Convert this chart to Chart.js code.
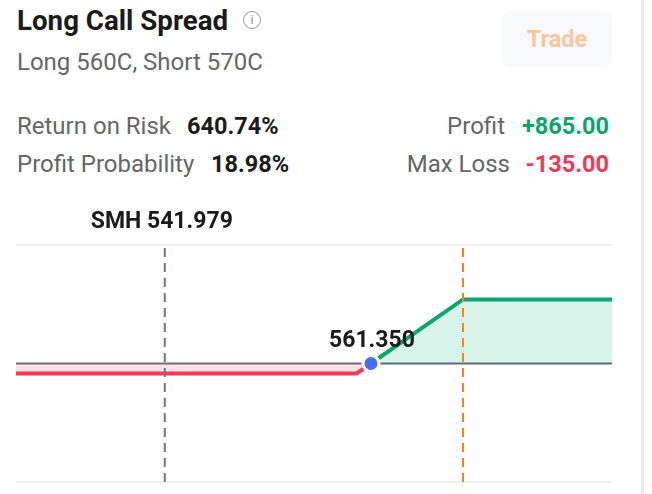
<!DOCTYPE html>
<html><head><meta charset="utf-8">
<script src="https://cdn.jsdelivr.net/npm/chart.js@4"></script>
<style>
html,body{margin:0;padding:0;background:#fff;width:652px;height:494px;overflow:hidden;font-family:Roboto,"Noto Sans",sans-serif;}
.abs{position:absolute;white-space:nowrap;}
#title{left:17px;top:7px;font-size:27.7px;line-height:27px;font-weight:700;color:#1b1b1b;}
#info{left:243px;top:11px;width:16px;height:16px;border:1.5px solid #9a9a9a;border-radius:50%;color:#9a9a9a;font-size:13px;line-height:16px;text-align:center;}
#sub{left:17px;top:50px;font-size:24px;line-height:24px;color:#666;}
#trade{left:502px;top:12px;width:110px;height:55px;background:#f8f9fb;border-radius:8px;color:#fac6a2;font-size:23.5px;font-weight:700;text-align:center;line-height:55px;}
#vbar{left:641px;top:0;width:3px;height:494px;background:#ececec;}
.lab{font-size:24px;line-height:24px;color:#666;}
.val{font-size:23.5px;line-height:24px;font-weight:700;color:#1b1b1b;}
.g{color:#0aa56f;}.r{color:#f0385a;}
#cwrap{position:absolute;left:0;top:190px;width:640px;height:304px;}
</style></head><body>
<div class="abs" id="title">Long Call Spread</div>
<div class="abs" id="info">i</div>
<div class="abs" id="sub">Long 560C, Short 570C</div>
<div class="abs" id="trade">Trade</div>
<div class="abs" id="vbar"></div>
<div class="abs lab" style="left:17px;top:114px;">Return on Risk</div>
<div class="abs val" style="left:187px;top:114px;">640.74%</div>
<div class="abs lab" style="left:17px;top:152px;">Profit Probability</div>
<div class="abs val" style="left:211px;top:152px;">18.98%</div>
<div class="abs lab" style="right:147px;top:114px;">Profit</div>
<div class="abs val g" style="right:43px;top:114px;">+865.00</div>
<div class="abs lab" style="right:142px;top:152px;">Max Loss</div>
<div class="abs val r" style="right:43px;top:152px;">-135.00</div>
<div id="cwrap"><canvas id="c"></canvas></div>
<script>
const priceRange = [528, 584];
const pnlRange = [-1600, 1600];
const lossPrices = [528, 560, 561.35];
const lossValues = [-135, -135, 0];
const profitPrices = [561.35, 570, 584];
const profitValues = [0, 865, 865];
const currentPrice = 541.979;
const breakeven = 561.35;
const shortStrike = 570;
const ticker = "SMH";

const pts = (xs, ys) => xs.map((x, i) => ({x, y: ys[i]}));

const labelPlugin = {
  id: 'labels',
  afterDatasetsDraw(chart) {
    const {ctx, scales: {x, y}, chartArea} = chart;
    ctx.save();
    ctx.fillStyle = '#1b1b1b';
    ctx.font = '700 23px Roboto';
    ctx.textAlign = 'center';
    ctx.textBaseline = 'alphabetic';
    ctx.fillText(ticker + ' ' + currentPrice.toFixed(3), x.getPixelForValue(currentPrice) - 3, chartArea.top - 17);
    ctx.fillText(breakeven.toFixed(3), x.getPixelForValue(breakeven) + 1, y.getPixelForValue(0) - 17);
    ctx.restore();
  }
};

new Chart(document.getElementById('c'), {
  type: 'line',
  data: {
    datasets: [
      {data: pts(lossPrices, lossValues), borderColor: '#f23b5a', borderWidth: 4, backgroundColor: '#fde1e5', fill: 'origin', pointRadius: 0, tension: 0, order: 5},
      {data: pts(profitPrices, profitValues), borderColor: '#0aa571', borderWidth: 4, backgroundColor: '#d8f3e9', fill: 'origin', pointRadius: 0, tension: 0, order: 5},
      {data: pts([priceRange[0], breakeven, priceRange[1]], [0, 0, 0]), borderColor: '#5f6b7b', borderWidth: 2, pointRadius: 0, fill: false, order: 4,
       segment: {borderColor: c => c.p0.parsed.x < breakeven ? '#776c7e' : '#5f6b7b'}},
      {data: pts([currentPrice, currentPrice], pnlRange), borderColor: '#6b778a', borderWidth: 2, borderDash: [9, 6], pointRadius: 0, fill: false, order: 3},
      {data: pts([shortStrike, shortStrike], pnlRange), borderColor: '#f5822a', borderWidth: 2, borderDash: [9, 6], pointRadius: 0, fill: false, order: 3},
      {data: pts([breakeven], [0]), showLine: false, pointRadius: 8, pointBackgroundColor: '#4a6cf5', pointBorderColor: '#ffffff', pointBorderWidth: 3, order: 1}
    ]
  },
  options: {
    responsive: true, maintainAspectRatio: false, animation: false,
    layout: {padding: {left: 16, right: 28, top: 55, bottom: 12}},
    plugins: {legend: {display: false}, tooltip: {enabled: false}},
    scales: {
      x: {type: 'linear', min: priceRange[0], max: priceRange[1], display: false},
      y: {min: pnlRange[0], max: pnlRange[1],
          afterBuildTicks: s => { s.ticks = pnlRange.map(v => ({value: v})); },
          ticks: {display: false}, border: {display: false},
          grid: {color: '#f0f0f0', lineWidth: 2, drawTicks: false}}
    }
  },
  plugins: [labelPlugin]
});
</script>
</body></html>
